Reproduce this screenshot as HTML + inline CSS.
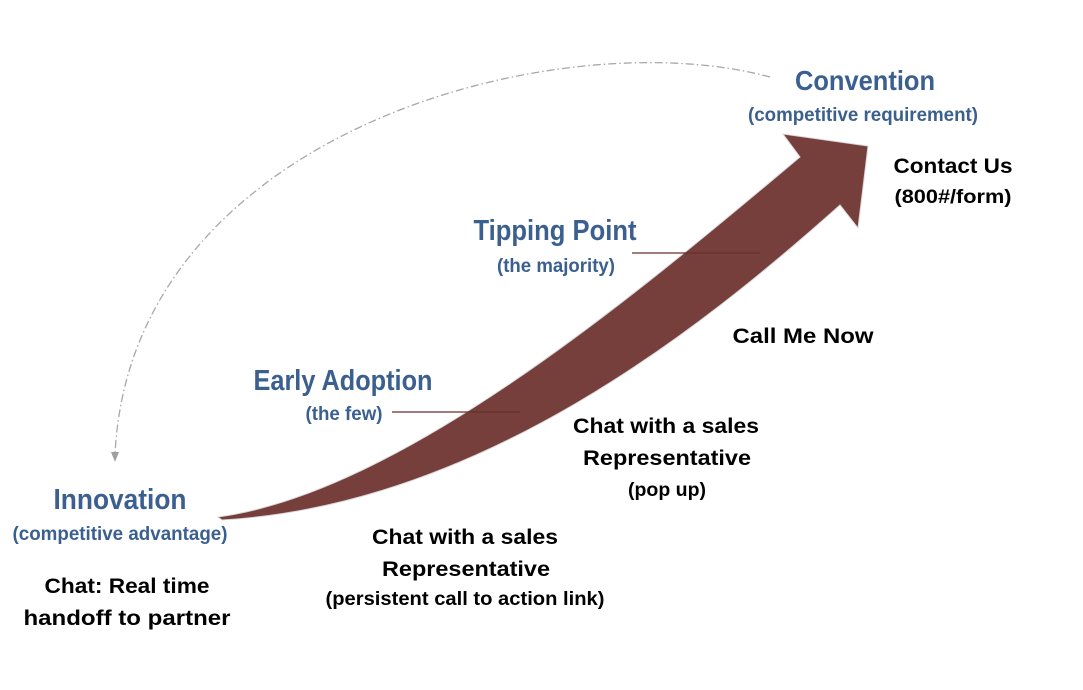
<!DOCTYPE html>
<html><head><meta charset="utf-8"><style>
html,body{margin:0;padding:0;background:#fff;}
svg{display:block;}
.b{font-family:"Liberation Sans",sans-serif;font-weight:bold;fill:#3b6090;}
.k{font-family:"Liberation Sans",sans-serif;font-weight:bold;fill:#000;}
</style></head><body>
<svg width="1083" height="690" viewBox="0 0 1083 690" xmlns="http://www.w3.org/2000/svg">
<path d="M770,77 C560,20 130,130 115,455" fill="none" stroke="#a8a8a8" stroke-width="1.3" stroke-dasharray="8,3,1.5,3"/>
<path d="M115,452 L111,452 L115,462 L119,452 Z" fill="#a0a0a0"/>
<path d="M218,517 C400,492 630,300 800,157 L783,134 L868,146 L858,228 L840,205 C700,330 480,505 222,520 Z" fill="#773f3c" stroke="#d8d8d8" stroke-width="1"/>
<line x1="632" y1="253" x2="760" y2="253" stroke="#6a2e2a" stroke-width="1.2"/>
<line x1="392" y1="412" x2="520" y2="412" stroke="#6a2e2a" stroke-width="1.2"/>
<text class="b" x="865" y="90" font-size="28" text-anchor="middle" textLength="140" lengthAdjust="spacingAndGlyphs">Convention</text>
<text class="b" x="863" y="121" font-size="19" text-anchor="middle" textLength="230" lengthAdjust="spacingAndGlyphs">(competitive requirement)</text>
<text class="k" x="953" y="173" font-size="21" text-anchor="middle" textLength="119" lengthAdjust="spacingAndGlyphs">Contact Us</text>
<text class="k" x="953" y="203" font-size="19" text-anchor="middle" textLength="117" lengthAdjust="spacingAndGlyphs">(800#/form)</text>
<text class="b" x="555" y="240" font-size="29" text-anchor="middle" textLength="163" lengthAdjust="spacingAndGlyphs">Tipping Point</text>
<text class="b" x="556" y="272" font-size="19" text-anchor="middle" textLength="118" lengthAdjust="spacingAndGlyphs">(the majority)</text>
<text class="k" x="803" y="343" font-size="21" text-anchor="middle" textLength="141" lengthAdjust="spacingAndGlyphs">Call Me Now</text>
<text class="b" x="343" y="390" font-size="29" text-anchor="middle" textLength="179" lengthAdjust="spacingAndGlyphs">Early Adoption</text>
<text class="b" x="344" y="420" font-size="19" text-anchor="middle" textLength="77" lengthAdjust="spacingAndGlyphs">(the few)</text>
<text class="k" x="666" y="433" font-size="21" text-anchor="middle" textLength="186" lengthAdjust="spacingAndGlyphs">Chat with a sales</text>
<text class="k" x="667" y="465" font-size="21" text-anchor="middle" textLength="168" lengthAdjust="spacingAndGlyphs">Representative</text>
<text class="k" x="667" y="496" font-size="19" text-anchor="middle" textLength="78" lengthAdjust="spacingAndGlyphs">(pop up)</text>
<text class="b" x="120" y="509" font-size="29" text-anchor="middle" textLength="133" lengthAdjust="spacingAndGlyphs">Innovation</text>
<text class="b" x="120" y="540" font-size="19" text-anchor="middle" textLength="215" lengthAdjust="spacingAndGlyphs">(competitive advantage)</text>
<text class="k" x="127" y="593" font-size="21" text-anchor="middle" textLength="165" lengthAdjust="spacingAndGlyphs">Chat: Real time</text>
<text class="k" x="127" y="625" font-size="21" text-anchor="middle" textLength="207" lengthAdjust="spacingAndGlyphs">handoff to partner</text>
<text class="k" x="465" y="544" font-size="21" text-anchor="middle" textLength="186" lengthAdjust="spacingAndGlyphs">Chat with a sales</text>
<text class="k" x="466" y="576" font-size="21" text-anchor="middle" textLength="168" lengthAdjust="spacingAndGlyphs">Representative</text>
<text class="k" x="465" y="605" font-size="19" text-anchor="middle" textLength="279" lengthAdjust="spacingAndGlyphs">(persistent call to action link)</text>
</svg>
</body></html>
